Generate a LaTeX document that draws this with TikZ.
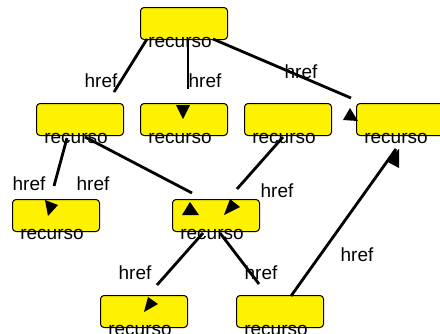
\documentclass[tikz,border=0pt]{standalone}
\usepackage{fontspec}
\setmainfont{Liberation Sans}
\begin{document}
\begin{tikzpicture}[x=1pt,y=-1pt,
  res/.style={draw=black,line width=1pt,fill=yellow,rounded corners=3.5pt,minimum width=87pt,minimum height=32pt,inner sep=0pt,anchor=north west},
  lbl/.style={anchor=base,inner sep=0pt,font=\fontsize{19}{21}\selectfont},
  lnk/.style={line width=2.8pt,line cap=butt},
  tip/.style={fill=black}]
\useasboundingbox (0,0) rectangle (440,333);
\begin{scope}
\clip (0,0) rectangle (440,333);
% boxes
\node[res] (T) at (140,7) {};
\node[res] (A) at (36,103) {};
\node[res] (B) at (140,103) {};
\node[res] (C) at (244,103) {};
\node[res] (D) at (356,103) {};
\node[res] (E) at (12,199) {};
\node[res] (F) at (172,199) {};
\node[res] (G) at (100,295) {};
\node[res] (H) at (236,295) {};
% box texts
\foreach \n in {T,A,B,C,D,E,F,G,H}{
  \node[lbl] at ([xshift=-4pt,yshift=-7.5pt]\n.south) {recurso};
}
% labels
\node[lbl] (l1) at (101,87) {href};
\node[lbl] (l2) at (205,87) {href};
\node[lbl] (l3) at (301,78) {href};
\node[lbl] (l4) at (29,190) {href};
\node[lbl] (l5) at (93,190) {href};
\node[lbl] (l6) at (277,197.5) {href};
\node[lbl] (l7) at (135,279) {href};
\node[lbl] (l8) at (261,279) {href};
\node[lbl] (l9) at (357,261) {href};
% connector end points
\coordinate (t1) at (147,39);  \coordinate (a1) at (114,92);
\coordinate (t2) at (188,39);  \coordinate (b1) at (188,89);
\coordinate (t3) at (213,39);  \coordinate (d1) at (351,98);
\coordinate (a2) at (67,138);  \coordinate (e1) at (54,186);
\coordinate (a3) at (85,137);  \coordinate (f1) at (192,193);
\coordinate (c1) at (283,137); \coordinate (f2) at (237,189);
\coordinate (f3) at (203,233); \coordinate (g1) at (157,285);
\coordinate (f4) at (220,233); \coordinate (h1) at (259,284);
\coordinate (h2) at (291,296); \coordinate (d2) at (396,149);
\draw[lnk] (t1) -- (a1);
\draw[lnk] (t2) -- (b1);
\draw[lnk] (t3) -- (d1);
\draw[lnk] (a2) -- (e1);
\draw[lnk] (a3) -- (f1);
\draw[lnk] (c1) -- (f2);
\draw[lnk] (f3) -- (g1);
\draw[lnk] (f4) -- (h1);
\draw[lnk] (h2) -- (d2);
% arrowheads
\fill[tip] (176,105) -- (190,105) -- (183,119) -- cycle;
\fill[tip] (350,108) -- (343,120) -- (358,121) -- cycle;
\fill[tip] (399,149) -- (386,161) -- (399,168) -- cycle;
\fill[tip] (45,200) -- (58,205) -- (48,216) -- cycle;
\fill[tip] (190,202) -- (182,215) -- (199,215) -- cycle;
\fill[tip] (230,199) -- (240,207) -- (224,215) -- cycle;
\fill[tip] (148,297) -- (158,304) -- (144,312) -- cycle;
\end{scope}
\end{tikzpicture}
\end{document}
